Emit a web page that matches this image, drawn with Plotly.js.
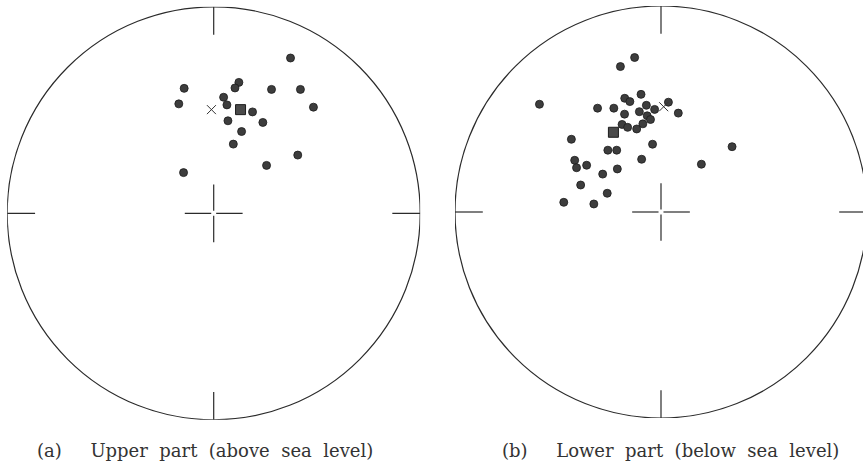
<!DOCTYPE html>
<html>
<head>
<meta charset="utf-8">
<script src="https://cdn.plot.ly/plotly-3.0.1.min.js"></script>
<style>
  html, body { margin: 0; padding: 0; background: #fff; }
  #net { width: 863px; height: 466px; }
</style>
</head>
<body>
<div id="net"></div>
<script>
// Poles plotted on the projection net, coordinates in units of the net radius
// (x to the right / east, y upward / north, centre of the net at 0,0).

// (a) upper part, above sea level
const upperX = [0.372, -0.143, 0.122, 0.103, 0.280, 0.420, -0.169, 0.048, 0.064,
                0.188, 0.483, 0.069, 0.238, 0.135, 0.095, 0.407, 0.256, -0.146];
const upperY = [0.752, 0.605, 0.634, 0.607, 0.600, 0.600, 0.530, 0.562, 0.525,
                0.491, 0.514, 0.448, 0.440, 0.396, 0.335, 0.282, 0.232, 0.197];
const upperSquareX = [0.130];
const upperSquareY = [0.502];
const upperCrossX = [-0.011];
const upperCrossY = [0.502];

// (b) lower part, below sea level
const lowerX = [-0.128, -0.197, -0.590, -0.308, -0.229, -0.176, -0.151, -0.097, -0.071,
                -0.031, 0.036, 0.084, -0.177, -0.105, -0.067, -0.051, -0.088, -0.118,
                -0.189, -0.162, -0.435, -0.041, 0.345, -0.258, -0.215, -0.094, 0.196,
                -0.419, -0.410, -0.361, -0.212, -0.283, -0.390, -0.261, -0.472, -0.326];
const lowerY = [0.750, 0.706, 0.523, 0.504, 0.504, 0.552, 0.536, 0.571, 0.518,
                0.498, 0.533, 0.480, 0.475, 0.487, 0.467, 0.449, 0.428, 0.403,
                0.425, 0.411, 0.353, 0.329, 0.317, 0.300, 0.300, 0.256, 0.232,
                0.251, 0.215, 0.227, 0.209, 0.184, 0.131, 0.091, 0.047, 0.039];
const lowerSquareX = [-0.231];
const lowerSquareY = [0.387];
const lowerCrossX = [0.013];
const lowerCrossY = [0.511];

const captionA = "(a)\u00A0\u00A0\u00A0\u00A0\u00A0Upper\u00A0\u00A0part\u00A0\u00A0(above\u00A0\u00A0sea\u00A0\u00A0level)";
const captionB = "(b)\u00A0\u00A0\u00A0\u00A0\u00A0Lower\u00A0\u00A0part\u00A0\u00A0(below\u00A0\u00A0sea\u00A0\u00A0level)";

const W = 863, H = 466;
const ink = '#2b2b2b';

const dotStyle = { size: 8, color: '#3d3d3d', line: { color: '#1c1c1c', width: 0.8 } };
const squareStyle = { symbol: 'square', size: 10, color: '#4a4a4a', line: { color: '#1c1c1c', width: 1 } };
const crossStyle = { symbol: 'x-thin-open', size: 9, color: '#333', line: { color: '#333', width: 1 } };

function pts(x, y, ax, marker) {
  return { type: 'scatter', mode: 'markers', x: x, y: y, xaxis: ax[0], yaxis: ax[1],
           marker: marker, hoverinfo: 'skip', showlegend: false, cliponaxis: false };
}

const traces = [
  pts(upperX, upperY, ['x', 'y'], dotStyle),
  pts(upperSquareX, upperSquareY, ['x', 'y'], squareStyle),
  pts(upperCrossX, upperCrossY, ['x', 'y'], crossStyle),
  pts(lowerX, lowerY, ['x2', 'y2'], dotStyle),
  pts(lowerSquareX, lowerSquareY, ['x2', 'y2'], squareStyle),
  pts(lowerCrossX, lowerCrossY, ['x2', 'y2'], crossStyle)
];

// Net outline, the four rim ticks and the centre cross, all in net units.
function netShapes(xr, yr) {
  const L = 0.135, g = 0.012, c = 0.14;
  const line = { color: ink, width: 1.2 };
  const seg = (x0, y0, x1, y1) => ({ type: 'line', xref: xr, yref: yr, x0, y0, x1, y1, line });
  return [
    { type: 'circle', xref: xr, yref: yr, x0: -1, y0: -1, x1: 1, y1: 1, line },
    seg(0, 1, 0, 1 - L), seg(0, -1, 0, -1 + L),
    seg(-1, 0, -1 + L, 0), seg(1, 0, 1 - L, 0),
    seg(-c, 0, -g, 0), seg(g, 0, c, 0),
    seg(0, -c, 0, -g), seg(0, g, 0, c)
  ];
}

const hidden = { visible: false, showgrid: false, zeroline: false, fixedrange: true };

// Left net: centre (213.7, 213.3) px, radius 206.5 px.
// Right net: centre (661, 212) px, radius 206 px; its right rim runs past the page edge.
const r1 = 206.5, cx1 = 213.7, cy1 = 213.3;
const r2 = 206, cx2 = 661, cy2 = 212;

const layout = {
  width: W, height: H,
  margin: { l: 0, r: 0, t: 0, b: 0, pad: 0 },
  paper_bgcolor: '#fff', plot_bgcolor: 'rgba(0,0,0,0)',
  showlegend: false,
  xaxis: Object.assign({ domain: [(cx1 - r1) / W, (cx1 + r1) / W], range: [-1, 1] }, hidden),
  yaxis: Object.assign({ domain: [(H - cy1 - r1) / H, (H - cy1 + r1) / H], range: [-1, 1] }, hidden),
  xaxis2: Object.assign({ domain: [(cx2 - r2) / W, 1], range: [-1, (W - cx2) / r2], anchor: 'y2' }, hidden),
  yaxis2: Object.assign({ domain: [(H - cy2 - r2) / H, (H - cy2 + r2) / H], range: [-1, 1], anchor: 'x2' }, hidden),
  shapes: netShapes('x', 'y').concat(netShapes('x2', 'y2')),
  annotations: [
    { text: captionA, xref: 'paper', yref: 'paper', x: 35 / W, y: (H - 450) / H,
      xanchor: 'left', yanchor: 'middle', showarrow: false,
      font: { family: 'DejaVu Serif, Liberation Serif, serif', size: 18, color: '#333' } },
    { text: captionB, xref: 'paper', yref: 'paper', x: 500 / W, y: (H - 450) / H,
      xanchor: 'left', yanchor: 'middle', showarrow: false,
      font: { family: 'DejaVu Serif, Liberation Serif, serif', size: 18, color: '#333' } }
  ]
};

Plotly.newPlot('net', traces, layout, { staticPlot: true, displayModeBar: false });
</script>
</body>
</html>
